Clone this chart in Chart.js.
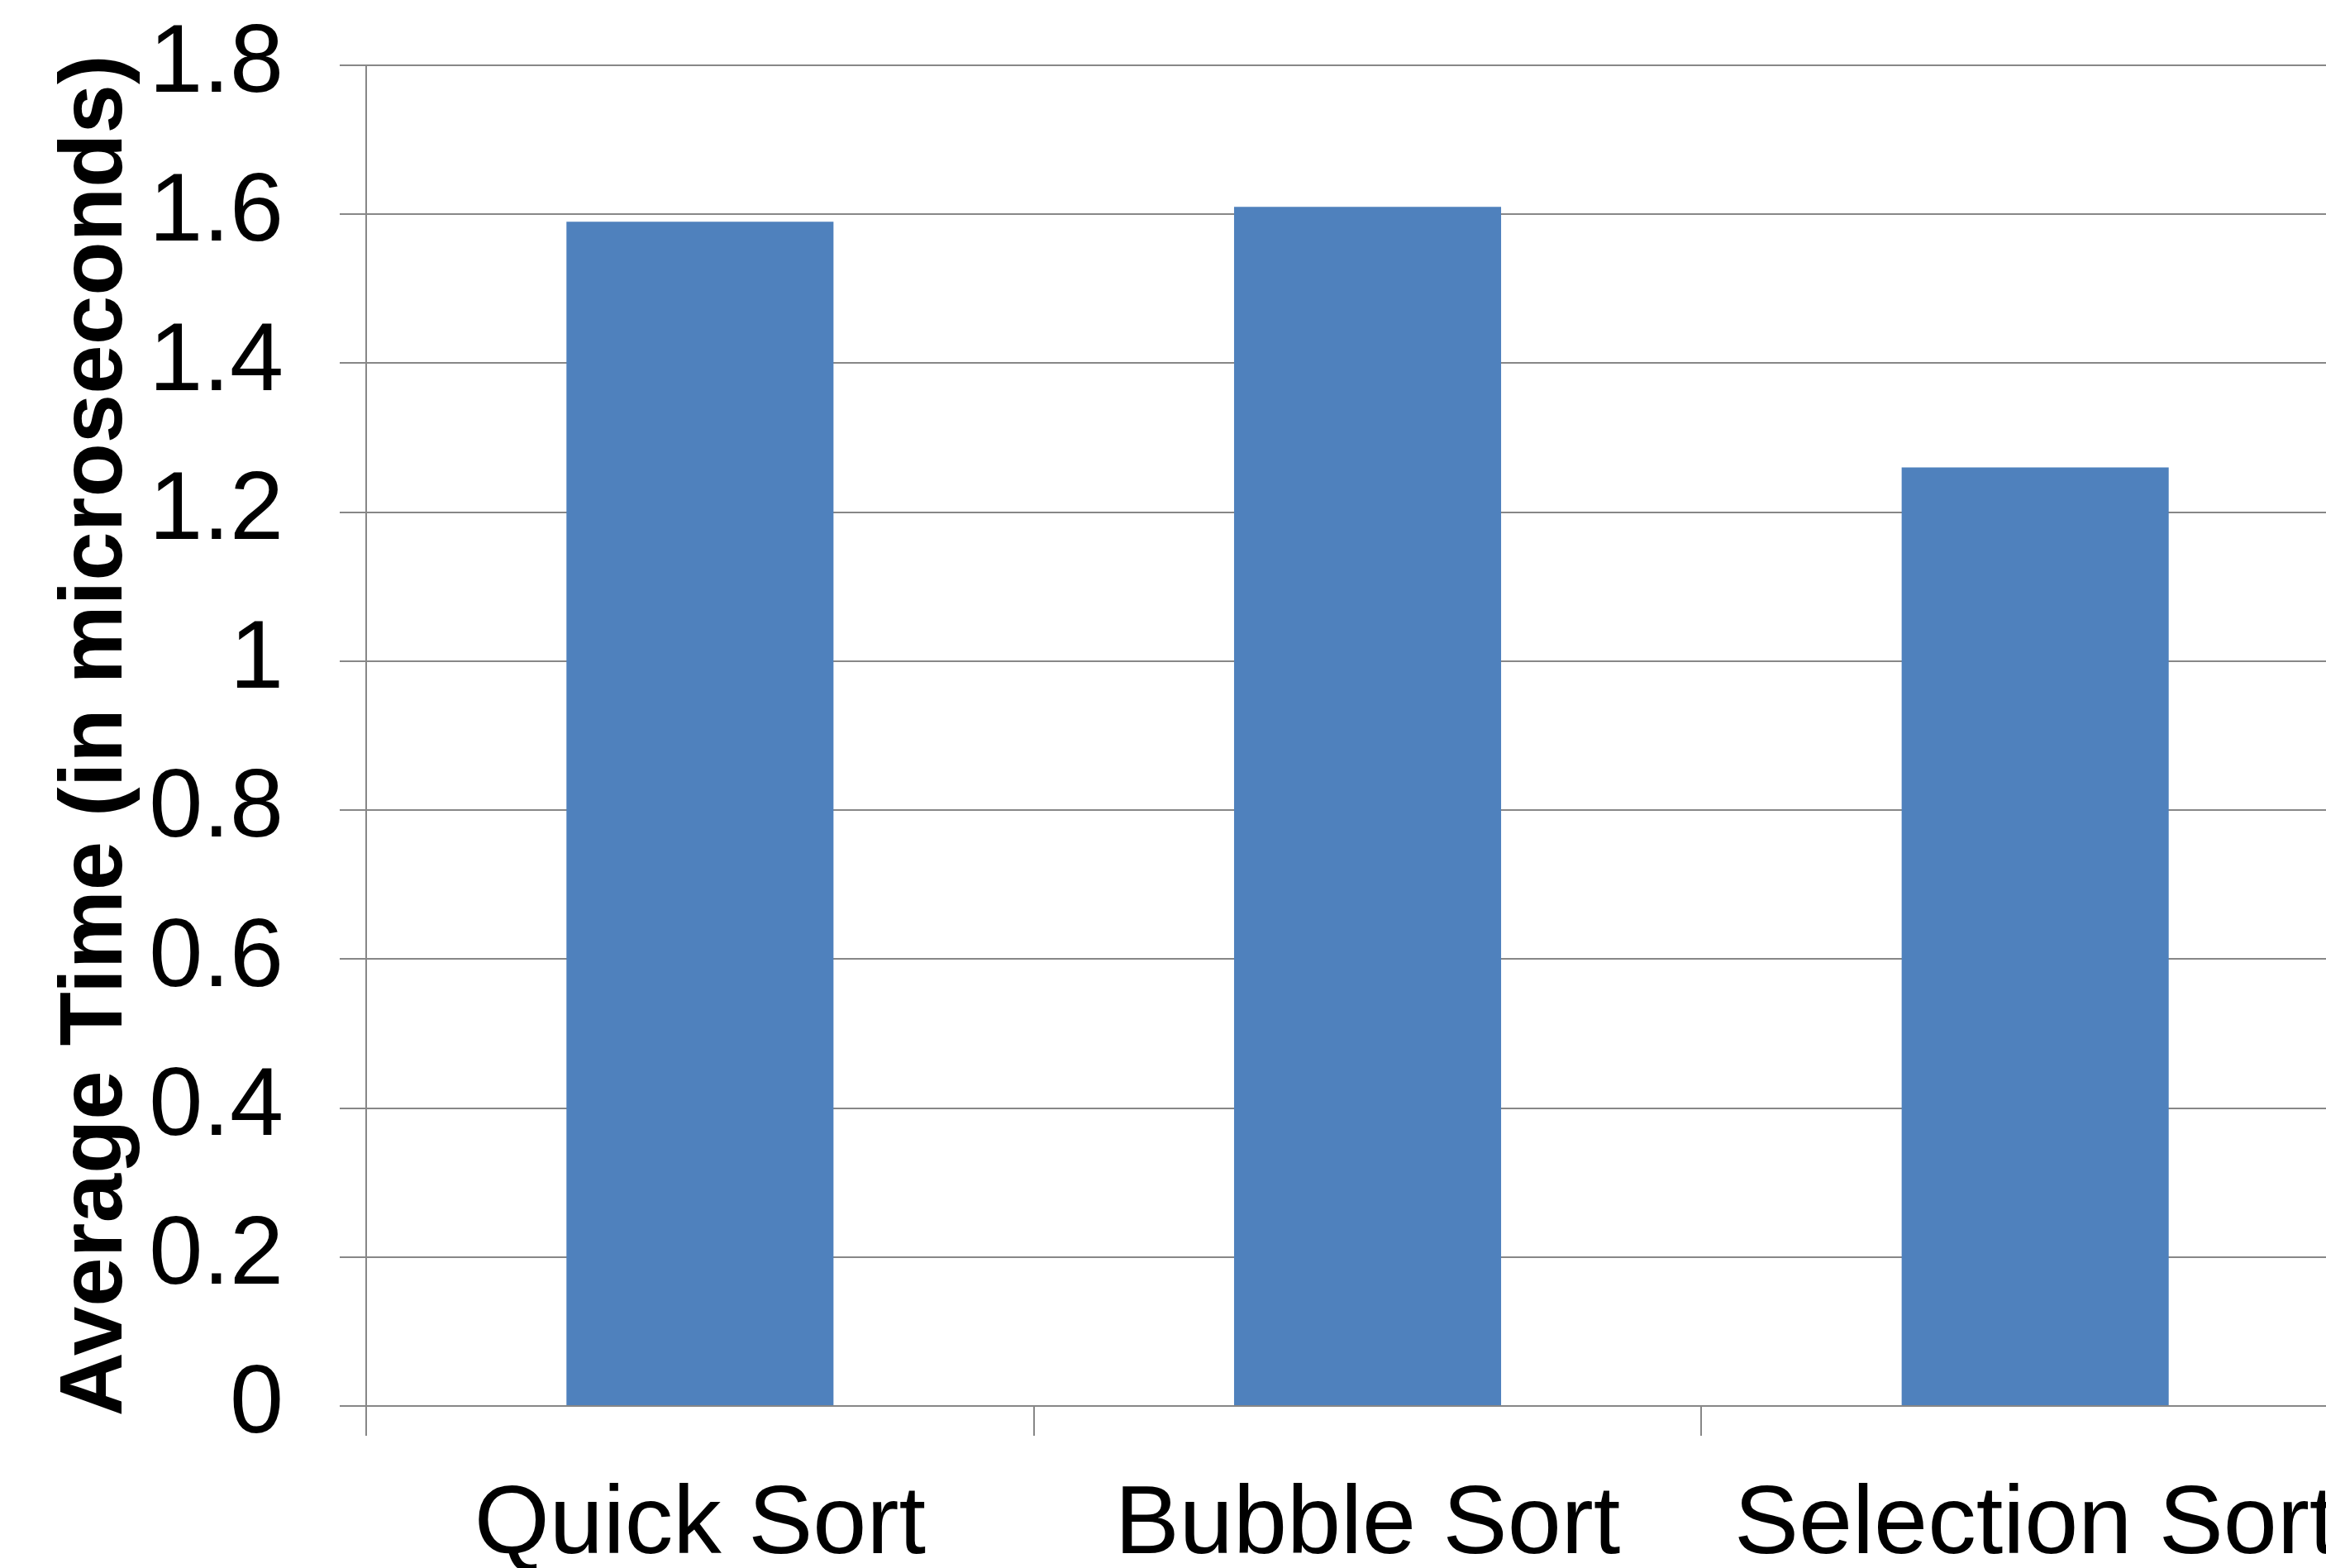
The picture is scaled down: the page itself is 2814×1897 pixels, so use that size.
<!DOCTYPE html>
<html>
<head>
<meta charset="utf-8">
<script src="https://cdn.jsdelivr.net/npm/chart.js@4/dist/chart.umd.min.js"></script>
<style>
  html, body { margin: 0; padding: 0; background: #ffffff; overflow: hidden; width: 2814px; height: 1897px; }
  #c { position: absolute; left: 0; top: 0; }
</style>
</head>
<body>
<canvas id="c" width="2900" height="1897"></canvas>
<script>
const categories = ['Quick Sort', 'Bubble Sort', 'Selection Sort'];
const averageTimes = [1.59, 1.61, 1.26];
const yTickLabels = ['0', '0.2', '0.4', '0.6', '0.8', '1', '1.2', '1.4', '1.6', '1.8'];
const yAxisTitle = 'Average Time (in microseconds)';

const gridColor = '#878787';
const fontFamily = '"Liberation Sans", Arial, sans-serif';

new Chart(document.getElementById('c'), {
  type: 'bar',
  data: {
    labels: categories,
    datasets: [{
      data: averageTimes,
      backgroundColor: '#4F81BD',
      borderWidth: 0,
      barPercentage: 0.4,
      categoryPercentage: 1.0
    }]
  },
  options: {
    responsive: false,
    animation: false,
    devicePixelRatio: 1,
    layout: { padding: { top: 79, left: 0, right: 34, bottom: 0 } },
    plugins: { legend: { display: false }, tooltip: { enabled: false } },
    scales: {
      x: {
        grid: { display: true, drawOnChartArea: false, drawTicks: true, tickLength: 36, color: gridColor, lineWidth: 2, offset: true },
        border: { display: true, color: gridColor, width: 2 },
        ticks: { color: '#000', font: { family: fontFamily, size: 117 }, padding: 40, maxRotation: 0, autoSkip: false },
        afterFit: (s) => { s.height = 196; s.paddingLeft = 0; s.paddingRight = 0; }
      },
      y: {
        min: 0,
        max: 1.8,
        grid: { color: gridColor, lineWidth: 2, drawTicks: true, tickLength: 32 },
        border: { display: true, color: gridColor, width: 2 },
        ticks: {
          stepSize: 0.2,
          color: '#000',
          font: { family: fontFamily, size: 117 },
          padding: 68,
          callback: (v, i) => yTickLabels[i]
        },
        title: {
          display: true,
          text: yAxisTitle,
          color: '#000',
          font: { family: fontFamily, size: 107, weight: 'bold' },
          padding: { top: 53, bottom: 0 }
        },
        afterFit: (s) => { s.width = 443; s.paddingTop = 0; s.paddingBottom = 0; }
      }
    }
  }
});
</script>
</body>
</html>
